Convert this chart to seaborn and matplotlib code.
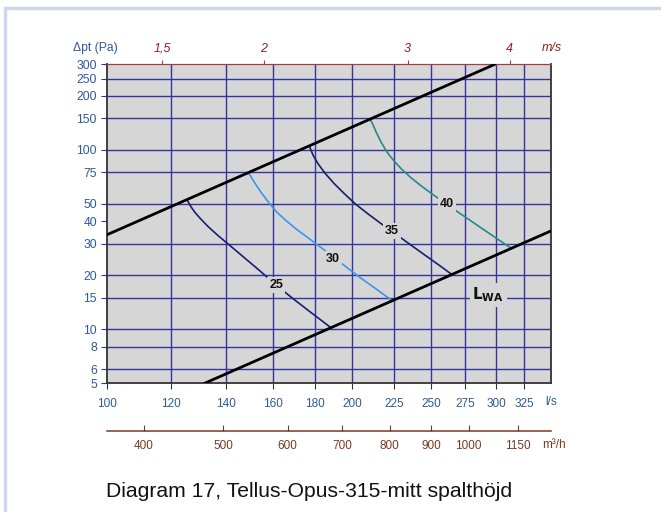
import numpy as np
import pandas as pd
import seaborn as sns
import matplotlib.pyplot as plt
from matplotlib.patches import Rectangle
from matplotlib.ticker import FixedLocator, NullLocator, FixedFormatter

# Axis ticks
flow_ticks = [100, 120, 140, 160, 180, 200, 225, 250, 275, 300, 325]
dp_ticks = [5, 6, 8, 10, 15, 20, 30, 40, 50, 75, 100, 150, 200, 250, 300]
dp_grid = [6, 8, 10, 15, 20, 30, 50, 75, 100, 150, 200, 250]
vel_ticks = [1.5, 2, 3, 4]
vel_labels = ['1,5', '2', '3', '4']
m3h_ticks = [400, 500, 600, 700, 800, 900, 1000, 1150]

# Limit lines (l/s, Pa)
upper_q = [100, 299]
upper_dp = [33.6, 300]
lower_q = [131.8, 350]
lower_dp = [5, 35.3]

# Sound power curves L_WA
c25_q = [125.6, 126.9, 128.3, 130.2, 133.1, 136.9, 141.6, 147.4, 154.2, 161.3, 169.7, 178.6, 188.3]
c25_dp = [52.1, 48.05, 44.8, 41.5, 37.4, 33.3, 29.3, 25.1, 21.1, 17.65, 14.65, 12.25, 10.2]
c30_q = [149.2, 152.0, 155.1, 158.3, 161.3, 165.5, 170.7, 176.6, 182.7, 189.5, 196.6, 204.5, 213.4, 223.1]
c30_dp = [74.6, 65.0, 56.8, 50.3, 45.4, 40.7, 36.2, 32.3, 28.8, 25.3, 22.25, 19.4, 16.9, 14.6]
c35_q = [177.3, 179.1, 181.6, 185.3, 190.0, 195.5, 201.6, 208.6, 216.4, 225.2, 234.9, 245.8, 256.4, 265.2]
c35_dp = [103.8, 93.1, 83.5, 73.8, 64.9, 57.05, 50.06, 44.3, 39.1, 34.4, 29.9, 25.8, 22.5, 20.1]
c40_q = [210.4, 211.9, 214.0, 217.0, 220.7, 225.2, 230.3, 236.2, 243.0, 251.4, 260.8, 270.5, 280.6,
         291.1, 302.0, 313.3]
c40_dp = [148.1, 138.6, 125.0, 110.0, 96.7, 86.2, 77.3, 69.7, 62.9, 56.1, 49.8, 44.5, 39.7, 35.4,
          31.6, 28.25]

label_names = ['25', '30', '35', '40']
label_q = [161.3, 189.3, 223.7, 261.3]
label_dp = [17.6, 24.6, 35.3, 49.7]

# duct 315 mm: m/s per l/s
k_vel = 1 / (1000 * np.pi * 0.1575 ** 2)

sns.set_style('white')
plt.rcParams['font.family'] = ['Liberation Sans', 'DejaVu Sans']

curves = pd.concat([
    pd.DataFrame({'q': c25_q, 'dp': c25_dp, 'lwa': '25'}),
    pd.DataFrame({'q': c30_q, 'dp': c30_dp, 'lwa': '30'}),
    pd.DataFrame({'q': c35_q, 'dp': c35_dp, 'lwa': '35'}),
    pd.DataFrame({'q': c40_q, 'dp': c40_dp, 'lwa': '40'}),
])
limits = pd.concat([
    pd.DataFrame({'q': upper_q, 'dp': upper_dp, 'line': 'upper'}),
    pd.DataFrame({'q': lower_q, 'dp': lower_dp, 'line': 'lower'}),
])

bg = '#d6d6d6'
grid_c = '#34349a'
blue_txt = '#2f5a96'
red_txt = '#8c2222'
brown = '#7a3a22'

fig = plt.figure(figsize=(6.61, 5.12), dpi=100)
fig.patches.append(Rectangle((5 / 661, -0.1), 1.2, 1.1 - 8 / 512, transform=fig.transFigure,
                             fill=False, edgecolor='#cdd7ee', linewidth=2.5))
ax = fig.add_axes([106.7 / 661, 1 - 383.3 / 512, 444 / 661, 319 / 512])
ax.set_facecolor(bg)
ax.set_xscale('log')
ax.set_yscale('log')
ax.set_xlim(100, 350)
ax.set_ylim(5, 300)

for q in flow_ticks[1:]:
    ax.axvline(q, color=grid_c, lw=1.0, zorder=1, snap=True)
for p in dp_grid:
    ax.axhline(p, color=grid_c, lw=1.0, zorder=1, snap=True)

sns.lineplot(data=curves, x='q', y='dp', hue='lwa', sort=False, estimator=None,
             palette={'25': '#1c1c78', '30': '#3b96ee', '35': '#1c1c6c', '40': '#27898a'},
             linewidth=1.2, legend=False, ax=ax, zorder=3)
sns.lineplot(data=limits, x='q', y='dp', units='line', estimator=None, color='black',
             linewidth=2, legend=False, ax=ax, zorder=4)

for name, q, p in zip(label_names, label_q, label_dp):
    ax.text(q, p, name, ha='center', va='center', fontsize=9, fontweight='bold', color='#111111',
            bbox=dict(facecolor=bg, edgecolor='none', pad=1.5), zorder=5)
ax.text(293.5, 15.5, r'$\mathbf{L}_{\mathbf{WA}}$', ha='center', va='center', fontsize=11,
        color='#111111', bbox=dict(facecolor=bg, edgecolor='none', pad=2), zorder=5)

ax.xaxis.set_major_locator(FixedLocator(flow_ticks))
ax.xaxis.set_major_formatter(FixedFormatter([str(t) for t in flow_ticks]))
ax.xaxis.set_minor_locator(NullLocator())
ax.yaxis.set_major_locator(FixedLocator(dp_ticks))
ax.yaxis.set_major_formatter(FixedFormatter([str(t) for t in dp_ticks]))
ax.yaxis.set_minor_locator(NullLocator())
ax.tick_params(axis='x', bottom=True, length=4, width=0.8, color='#333333', pad=6.5,
               labelsize=8.5, labelcolor=blue_txt)
ax.tick_params(axis='y', left=True, length=4, width=0.8, color=grid_c, pad=3,
               labelsize=8.7, labelcolor=blue_txt)
ax.set_xlabel('')
ax.set_ylabel('')
for s in ['left', 'bottom', 'right']:
    ax.spines[s].set_color('#333333')
    ax.spines[s].set_linewidth(1.3)
ax.spines['top'].set_color('#a04040')

top = ax.secondary_xaxis('top', functions=(lambda q: q * k_vel, lambda v: v / k_vel))
top.set_xticks(vel_ticks)
top.set_xticklabels(vel_labels)
top.xaxis.set_minor_locator(NullLocator())
top.tick_params(length=3, width=0.8, color='#a04040', pad=4, labelsize=9, labelcolor=red_txt)
for t in top.get_xticklabels():
    t.set_fontstyle('italic')
top.spines['top'].set_color('#a04040')

low = ax.secondary_xaxis(-0.1495, functions=(lambda q: q * 3.6, lambda m: m / 3.6))
low.set_xticks(m3h_ticks)
low.set_xticklabels([str(t) for t in m3h_ticks])
low.xaxis.set_minor_locator(NullLocator())
low.tick_params(direction='in', length=4, width=0.8, color=brown, pad=6.5, labelsize=8.5,
                labelcolor=brown)
low.spines['bottom'].set_color(brown)
low.spines['bottom'].set_linewidth(1.1)

ax.text(-0.077, 1.0 + 16 / 319, '\u0394pt (Pa)', transform=ax.transAxes, ha='left', va='center',
        fontsize=8.7, color=blue_txt)
ax.text(0.98, 1.0 + 16 / 319, 'm/s', transform=ax.transAxes, ha='left', va='center',
        fontsize=9, color=red_txt, fontstyle='italic')
ax.text(1.0, -18.4 / 319, 'l/s', transform=ax.transAxes, ha='center', va='center',
        fontsize=8.5, color=blue_txt)
ax.text(542 / 661, 1 - 445 / 512, 'm\u00b3/h', transform=fig.transFigure, ha='left', va='center',
        fontsize=8.5, color=brown)

fig.text(106 / 661, 1 - 491.7 / 512, 'Diagram 17, Tellus-Opus-315-mitt spalthöjd', ha='left',
         va='center', fontsize=15.2, color='#111111')

fig.savefig('out.png', dpi=100)
